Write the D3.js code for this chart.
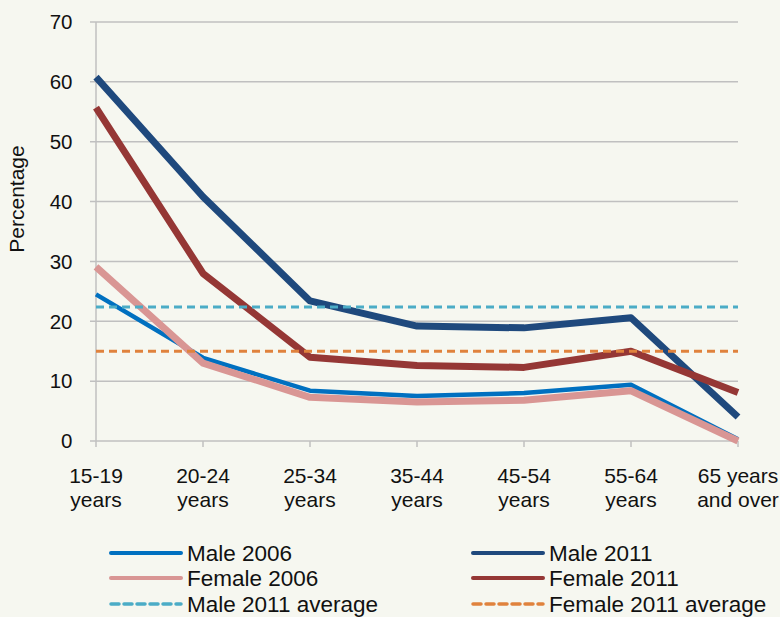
<!DOCTYPE html>
<html><head><meta charset="utf-8">
<script src="https://cdn.jsdelivr.net/npm/d3@7"></script>
<style>
body{margin:0;background:#F6F7F0;}
svg{display:block;font-family:"Liberation Sans",Arial,sans-serif;}
</style></head><body>
<svg id="chart" width="780" height="617"></svg>
<script>
const categories = [["15-19","years"],["20-24","years"],["25-34","years"],["35-44","years"],["45-54","years"],["55-64","years"],["65 years","and over"]];
const male2006 = [24.5, 13.9, 8.4, 7.5, 8.0, 9.4, 0.3];
const female2006 = [29.1, 13.0, 7.3, 6.5, 6.8, 8.4, 0.0];
const male2011 = [60.8, 40.8, 23.4, 19.2, 18.9, 20.6, 4.0];
const female2011 = [55.7, 28.0, 14.0, 12.6, 12.3, 15.0, 8.1];
const male2011Avg = 22.4;
const female2011Avg = 15.0;
const yTicks = [0,10,20,30,40,50,60,70];

(function(){
const svg = d3.select("#chart");
svg.append("rect").attr("width",780).attr("height",617).attr("fill","#F6F7F0");

const pl=96, pr=738, pt=22, pb=441;
const x = d3.scalePoint().domain(d3.range(categories.length)).range([pl,pr]).padding(0);
const y = d3.scaleLinear().domain([0,70]).range([pb,pt]);

svg.append("g").selectAll("line").data(yTicks).join("line")
  .attr("x1",pl-6).attr("x2",pr).attr("y1",d=>y(d)).attr("y2",d=>y(d))
  .attr("stroke","#C0C0C0").attr("stroke-width",1.5);
svg.append("line").attr("x1",pl).attr("x2",pl).attr("y1",pt).attr("y2",pb)
  .attr("stroke","#C0C0C0").attr("stroke-width",1.5);
svg.append("g").selectAll("line").data(d3.range(categories.length)).join("line")
  .attr("x1",d=>x(d)).attr("x2",d=>x(d)).attr("y1",pb).attr("y2",pb+6)
  .attr("stroke","#C0C0C0").attr("stroke-width",1.5);
svg.append("g").selectAll("text").data(yTicks).join("text")
  .attr("x",72.5).attr("y",d=>y(d)+7.3).attr("text-anchor","end")
  .attr("font-size",20.5).attr("fill","#111").text(d=>d);
const xl = svg.append("g").selectAll("text").data(categories).join("text")
  .attr("text-anchor","middle").attr("font-size",21).attr("fill","#111");
xl.append("tspan").attr("x",(d,i)=>x(i)).attr("y",483).text(d=>d[0]);
xl.append("tspan").attr("x",(d,i)=>x(i)).attr("y",507).text(d=>d[1]);
svg.append("text").attr("transform","translate(24,199) rotate(-90)")
  .attr("text-anchor","middle").attr("font-size",21).attr("fill","#111").text("Percentage");

const line = d3.line().x((d,i)=>x(i)).y(d=>y(d));
const series = [
  {data:male2006, color:"#0070C0", w:4.5},
  {data:female2006, color:"#D99694", w:7},
  {data:male2011, color:"#1F497D", w:7},
  {data:female2011, color:"#953735", w:7},
];
series.forEach(s=>{
  svg.append("path").datum(s.data).attr("d",line).attr("fill","none")
    .attr("stroke",s.color).attr("stroke-width",s.w).attr("stroke-linejoin","round");
});
const avgs = [
  {v:male2011Avg, color:"#4BACC6"},
  {v:female2011Avg, color:"#E0823D"},
];
avgs.forEach(a=>{
  svg.append("line").attr("x1",pl).attr("x2",pr).attr("y1",y(a.v)).attr("y2",y(a.v))
    .attr("stroke",a.color).attr("stroke-width",3).attr("stroke-dasharray","8,5");
});

const legend = [
  {name:"Male 2006", color:"#0070C0", w:4, dash:null, col:0, row:0},
  {name:"Male 2011", color:"#1F497D", w:4, dash:null, col:1, row:0},
  {name:"Female 2006", color:"#D99694", w:4, dash:null, col:0, row:1},
  {name:"Female 2011", color:"#953735", w:4, dash:null, col:1, row:1},
  {name:"Male 2011 average", color:"#4BACC6", w:3.5, dash:"8,5", col:0, row:2},
  {name:"Female 2011 average", color:"#E0823D", w:3.5, dash:"8,5", col:1, row:2},
];
const colX=[111,473], rowY=[553,578,604];
const lg = svg.append("g").selectAll("g").data(legend).join("g")
  .attr("transform",d=>`translate(${colX[d.col]},${rowY[d.row]})`);
lg.append("line").attr("x1",0).attr("x2",70).attr("y1",0).attr("y2",0)
  .attr("stroke",d=>d.color).attr("stroke-width",d=>d.w).attr("stroke-dasharray",d=>d.dash)
  .attr("stroke-linecap","round");
lg.append("text").attr("x",76).attr("y",8).attr("font-size",22.5)
  .attr("fill","#111").text(d=>d.name);
})();
</script>
</body></html>
